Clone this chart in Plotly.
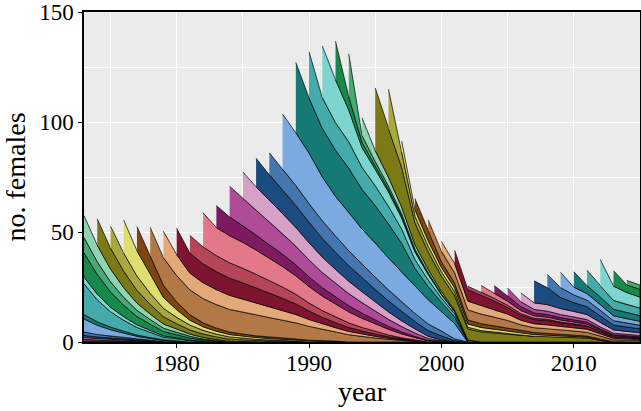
import plotly.graph_objects as go

# ---- data: number of females alive per birth cohort, by year (values start at 'start' year) ----
first_year, last_year = 1973, 2015

c1962 = [0.5, 0.4, 0.3, 0.2, 0.1, 0]
c1963 = [0.7, 0.5, 0.4, 0.3, 0.2, 0.1, 0]
c1964 = [0.8, 0.6, 0.5, 0.4, 0.3, 0.2, 0]
c1965 = [1.0, 0.8, 0.6, 0.5, 0.3, 0.2, 0]
c1966 = [1.5, 1.1, 0.8, 0.6, 0.4, 0.3, 0.2, 0]
c1967 = [6.0, 4.2, 3.0, 2.0, 1.3, 0.8, 0.5, 0.3, 0]
c1968 = [2.0, 1.6, 1.2, 0.9, 0.6, 0.4, 0.3, 0.2, 0]
c1969 = [14.0, 10.0, 7.0, 5.0, 3.4, 2.4, 1.2, 1.0, 0.6, 0.3, 0]
c1970 = [3.0, 2.5, 2.0, 1.6, 1.2, 0.9, 0.6, 0.4, 0.2, 0]
c1971 = [11.0, 9.0, 7.0, 5.2, 3.8, 2.8, 2.0, 1.4, 1.0, 0.6, 0.3, 0]
c1972 = [7.0, 5.8, 4.6, 3.6, 2.8, 2.1, 1.5, 1.1, 0.8, 0.5, 0.3, 0]
c1973 = [10.0, 7.5, 5.8, 4.4, 3.3, 2.5, 1.9, 1.4, 1.0, 0.7, 0.5, 0.3, 0.2, 0]
c1974 = [12.0, 9.5, 7.5, 5.8, 4.4, 3.3, 2.5, 1.9, 1.5, 1.2, 1.0, 0.8, 0.6, 0.4, 0.3, 0.2, 0]
c1975 = [10.0, 8.2, 6.5, 5.0, 3.8, 2.9, 2.2, 1.7, 1.3, 1.0, 0.8, 0.6, 0.4, 0.3, 0.2, 0]
c1976 = [15, 11.5, 9, 5, 3.5, 2.2, 1.6, 1.3, 1.1, 0.9, 0.8, 0.7, 0.6, 0.5, 0.4, 0.3, 0.2, 0]
c1977 = [11, 8, 5.5, 3.5, 2.5, 1.8, 1.4, 1.1, 0.9, 0.8, 0.7, 0.6, 0.5, 0.4, 0.3, 0.2, 0]
c1978 = [13, 12.5, 12, 11.3, 11.0, 10.7, 10.3, 9.9, 9.4, 8.8, 8.1, 7.3, 6.3, 5.2, 4.2, 3.3, 2.5, 1.8, 1.2, 0.7, 0.3, 0]
c1979 = [12, 9.5, 7.6, 7.2, 6.8, 6.4, 6.0, 5.5, 5.0, 4.4, 3.8, 3.1, 2.4, 1.9, 1.5, 1.1, 0.8, 0.5, 0.3, 0.1, 0]
c1980 = [12, 9.1, 8.6, 8.2, 7.8, 7.4, 6.9, 6.3, 5.6, 4.8, 3.9, 3.0, 2.3, 1.8, 1.4, 1.0, 0.7, 0.4, 0.2, 0]
c1981 = [8, 7.7, 7.3, 7.0, 6.6, 6.2, 5.7, 5.1, 4.4, 3.6, 3.1, 2.6, 2.1, 1.6, 1.2, 0.8, 0.5, 0.3, 0]
c1982 = [15.5, 12.7, 12.3, 11.8, 11.0, 10.2, 9.3, 8.4, 7.5, 6.6, 5.8, 5.0, 4.2, 3.4, 2.6, 1.8, 1.1, 0.5, 0.2, 0]
c1983 = [10, 8.5, 7.5, 6.8, 6.2, 5.6, 5.0, 4.4, 3.8, 3.3, 2.8, 2.3, 1.8, 1.3, 0.9, 0.5, 0.2, 0]
c1984 = [14, 12.5, 11.2, 10.2, 9.3, 8.5, 7.7, 6.9, 6.2, 5.5, 4.8, 4.0, 3.2, 2.4, 1.6, 0.9, 0.4, 0]
c1985 = [12, 10.7, 9.9, 9.2, 8.5, 7.8, 7.0, 6.3, 5.6, 4.9, 4.2, 3.4, 2.6, 1.8, 1.0, 0.4, 0]
c1986 = [13, 11.5, 10.7, 10.0, 9.3, 8.5, 7.8, 7.1, 6.4, 5.7, 5.0, 4.2, 3.4, 2.6, 1.8, 0.6, 0]
c1987 = [10, 9.5, 9.0, 8.5, 8.0, 7.4, 6.8, 6.2, 5.6, 5.0, 4.4, 3.7, 3.0, 2.2, 0.8, 0]
c1988 = [25, 24, 23, 20, 18, 17.5, 16, 15.5, 14.5, 13.6, 12.5, 11, 9, 7, 0]
c1989 = [32, 25, 22, 21, 20, 18, 17, 15.5, 13, 8, 6, 4, 3, 0]
c1990 = [21, 14, 12.5, 12, 10, 9, 8, 6.5, 4, 3, 2, 1.5, 0]
c1991 = [23.5, 19.5, 14.5, 9, 7.5, 6.5, 5, 3.5, 2.5, 1.5, 1, 0.6, 0]
c1992 = [17.5, 6, 2.5, 1.5, 1.2, 1.0, 0.6, 0.4, 0.2, 0]
c1993 = [19.5, 3, 2, 1.5, 1, 0.6, 0.4, 0.2, 0]
c1994 = [8, 5, 4, 3, 2, 1.5, 1, 0.6, 0.3, 0]
c1995 = [28.5, 22, 18, 10, 8, 7, 6.5, 5, 4.6, 4.2, 3.6, 3.0, 2.6, 2.5, 2.2, 2.0, 1.8, 0.8, 0]
c1996 = [18, 7, 3, 2.5, 2, 1.8, 0.8, 0.6, 0.4, 0.3, 0.2, 0]
c1997 = [5, 3, 2.5, 2, 1.8, 1.5, 1.4, 1.3, 1.2, 1.0, 0.8, 0.7, 0.6, 0.5, 0.4, 0.2, 0]
c1998 = [5, 4.5, 2.5, 2.2, 1.8, 1.7, 1.5, 1.3, 1.1, 0.9, 0.8, 0.7, 0.6, 0.5, 0.3, 0.1, 0]
c1999 = [5, 4.8, 4.6, 4.6, 4.4, 3.9, 3.4, 2.5, 2.2, 2.2, 2.0, 1.9, 1.7, 1.4, 0.9, 0.8, 0.7]
c2000 = [4.5, 4.3, 4.0, 3.8, 3.3, 2.9, 2.1, 1.8, 1.8, 1.6, 1.5, 1.4, 1.0, 0.7, 0.6, 0.5]
c2001 = [6, 5.2, 4.8, 4.0, 3.0, 2.2, 1.9, 1.8, 1.6, 1.5, 1.4, 1.0, 0.7, 0.6, 0.5]
c2002 = [1.5, 1.4, 1.2, 1.0, 0.8, 0.6, 0.5, 0.4, 0.3, 0.2, 0.1, 0]
c2003 = [3, 2.3, 1.8, 1.4, 1.1, 1.0, 0.9, 0.8, 0.7, 0.5, 0.4, 0.4, 0.3]
c2004 = [3.5, 2.5, 1.8, 1.3, 1.2, 1.1, 1.0, 0.9, 0.7, 0.5, 0.5, 0.4]
c2005 = [3.5, 2.2, 1.6, 1.5, 1.4, 1.3, 1.2, 0.9, 0.7, 0.6, 0.6]
c2006 = [4, 3.0, 3.0, 2.7, 2.5, 2.3, 2.0, 1.5, 1.3, 1.2]
c2007 = [10, 7.7, 5.0, 4.0, 3.5, 3.0, 2.2, 2.0, 1.8]
c2008 = [6, 4.5, 3.5, 3.0, 2.5, 2.0, 1.8, 1.6]
c2009 = [7, 3.5, 3.0, 2.7, 2.2, 2.0, 1.8]
c2010 = [7, 3.6, 3.4, 3.0, 2.8, 2.6]
c2011 = [7, 5.0, 4.0, 3.6, 3.4]
c2012 = [12, 6.5, 5.5, 5.0]
c2013 = [7, 3.5, 3.5]
c2014 = [2.0, 2.0]

cohort_births = list(range(1962, 2015))
cohort_values = [c1962, c1963, c1964, c1965, c1966, c1967, c1968, c1969, c1970, c1971,
                 c1972, c1973, c1974, c1975, c1976, c1977, c1978, c1979, c1980, c1981,
                 c1982, c1983, c1984, c1985, c1986, c1987, c1988, c1989, c1990, c1991,
                 c1992, c1993, c1994, c1995, c1996, c1997, c1998, c1999, c2000, c2001,
                 c2002, c2003, c2004, c2005, c2006, c2007, c2008, c2009, c2010, c2011,
                 c2012, c2013, c2014]

palette = ["#8fd3b0", "#7c7a14", "#a9a83f", "#dedd6f", "#7e4613", "#b27845", "#e3a978",
           "#7e1430", "#b44657", "#e27888", "#7e1a60", "#b04b97", "#d6a0c7", "#1c4b80",
           "#4577ae", "#7aaae0", "#147a73", "#43acaa", "#7dd5cf", "#178a4b", "#45aa78"]

fig = go.Figure()
totals = {y: 0.0 for y in range(first_year, last_year + 1)}
for birth, vals in zip(cohort_births, cohort_values):
    start = max(birth, first_year)
    xs, vs = [], []
    for i, v in enumerate(vals):
        yr = start + i
        if yr <= last_year:
            xs.append(yr)
            vs.append(v)
    low = [totals[x] for x in xs]
    high = [l + v for l, v in zip(low, vs)]
    for x, h in zip(xs, high):
        totals[x] = h
    color = palette[(birth - first_year) % len(palette)]
    fig.add_trace(go.Scatter(
        x=xs + xs[::-1], y=high + low[::-1], mode="lines", fill="toself",
        fillcolor=color, line=dict(color="black", width=0.7),
        hoverinfo="skip", showlegend=False))

font_family = "Liberation Serif, Times New Roman, serif"
fig.update_layout(
    width=641, height=411,
    margin=dict(l=84, r=1, t=12, b=69),
    paper_bgcolor="white", plot_bgcolor="#EBEBEB",
    font=dict(family=font_family, size=23, color="black"),
    xaxis=dict(range=[first_year, last_year], tickmode="linear", tick0=1980, dtick=10,
               automargin=False,
               showgrid=True, gridcolor="white", gridwidth=1.3,
               minor=dict(tick0=1975, dtick=10, showgrid=True, gridcolor="white", gridwidth=0.6),
               showline=True, linecolor="black", linewidth=1.5, mirror=True,
               ticks="outside", ticklen=4, tickwidth=1, tickcolor="black",
               ticklabelstandoff=-4,
               zeroline=False, title=dict(text="year", standoff=6)),
    yaxis=dict(range=[0, 150], tickmode="linear", tick0=0, dtick=50,
               automargin=False,
               showgrid=True, gridcolor="white", gridwidth=1.3,
               minor=dict(tick0=25, dtick=50, showgrid=True, gridcolor="white", gridwidth=0.6),
               showline=True, linecolor="black", linewidth=1.5, mirror=True,
               ticks="outside", ticklen=4, tickwidth=1, tickcolor="black",
               zeroline=False, title=dict(text="no. females", standoff=6)),
)

fig.write_html("out.html", config={"displayModeBar": False},
               post_script="document.body.style.margin='0px';")
